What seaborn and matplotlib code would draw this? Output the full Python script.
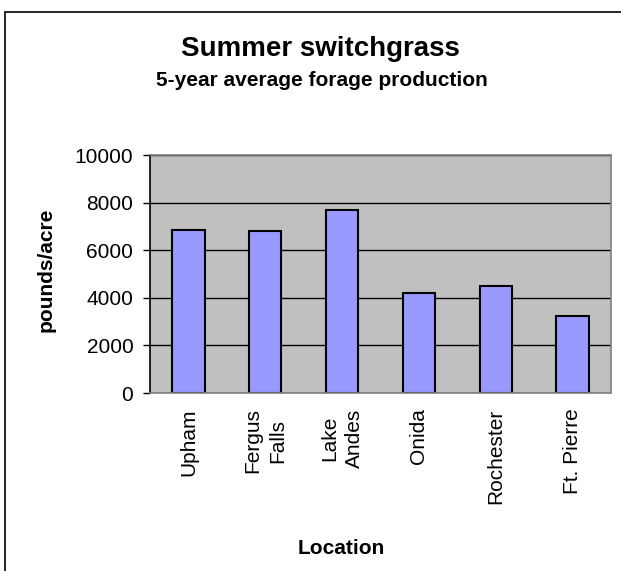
import matplotlib
matplotlib.use('Agg')
import matplotlib.pyplot as plt
from matplotlib.patches import Rectangle
import pandas as pd
import seaborn as sns

# Data
locations = ['Upham', 'Fergus\nFalls', 'Lake\nAndes', 'Onida', 'Rochester', 'Ft. Pierre']
pounds_per_acre = [6870, 6800, 7700, 4220, 4480, 3230]
y_ticks = [0, 2000, 4000, 6000, 8000, 10000]

sns.set_style('white')
plt.rcParams['font.family'] = ['Liberation Sans', 'DejaVu Sans']
plt.rcParams['text.color'] = 'black'
plt.rcParams['axes.labelcolor'] = 'black'
plt.rcParams['xtick.color'] = 'black'
plt.rcParams['ytick.color'] = 'black'

df = pd.DataFrame({'Location': locations, 'pounds/acre': pounds_per_acre})

fig = plt.figure(figsize=(6.21, 5.71), dpi=100)
ax = fig.add_axes([0.2415, 0.3117, 0.7424, 0.4168])
ax.set_facecolor('#C0C0C0')

sns.barplot(data=df, x='Location', y='pounds/acre', color='#9999FF',
            edgecolor='black', linewidth=1.5, width=0.42, saturation=1, ax=ax)

ax.set_ylim(0, 10000)
ax.set_yticks(y_ticks)
ax.set_yticklabels([str(t) for t in y_ticks], fontsize=15)
ax.yaxis.grid(True, color='black', linewidth=1)
ax.set_axisbelow(True)

ax.tick_params(axis='y', direction='out', length=5, width=1, color='black', pad=7, left=True)
ax.tick_params(axis='x', length=0, pad=11)
for lab in ax.get_xticklabels():
    lab.set_rotation(90)
    lab.set_fontsize(15)
    lab.set_va('top')
    lab.set_ha('center')
    lab.set_multialignment('center')
    lab.set_linespacing(1.35)

ax.spines['left'].set_color('black')
ax.spines['left'].set_linewidth(1.2)
for s in ['top', 'right', 'bottom']:
    ax.spines[s].set_color('#808080')
    ax.spines[s].set_linewidth(1.2)

ax.set_xlabel('Location', fontsize=15, fontweight='bold')
ax.xaxis.set_label_coords(0.414, -0.615)
ax.set_ylabel('pounds/acre', fontsize=15, fontweight='bold')
ax.yaxis.set_label_coords(-0.204, 0.517)

fig.text(320 / 621, 1 - 49 / 571, 'Summer switchgrass', fontsize=20,
         fontweight='bold', ha='center', va='center')
fig.text(322 / 621, 1 - 81 / 571, '5-year average forage production', fontsize=15,
         fontweight='bold', ha='center', va='center')

# chart area border (runs off the right and bottom edge)
fig.add_artist(Rectangle((5 / 621, -0.1), 1.2, 1 - 12 / 571 + 0.1,
                         transform=fig.transFigure, fill=False,
                         edgecolor='black', linewidth=1.2))

fig.savefig('out.png', dpi=100)
